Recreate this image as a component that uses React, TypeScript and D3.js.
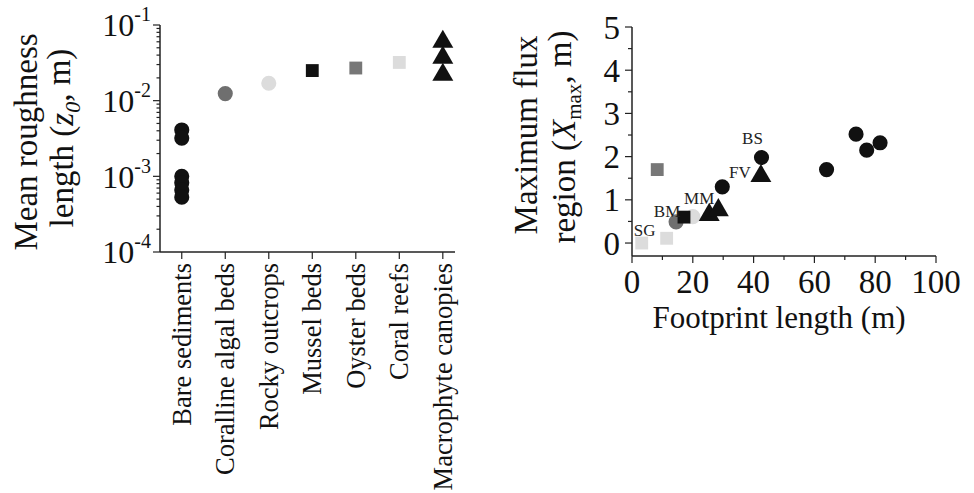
import React from 'react';
import * as d3 from 'd3';

// left panel: mean roughness length per habitat
const habitats = ['Bare sediments', 'Coralline algal beds', 'Rocky outcrops', 'Mussel beds', 'Oyster beds', 'Coral reefs', 'Macrophyte canopies'];
const roughnessByHabitat = [
  [0.0041, 0.0032, 0.001, 0.00082, 0.00066, 0.00053],
  [0.0124],
  [0.017],
  [0.025],
  [0.027],
  [0.032],
  [0.06, 0.037, 0.022],
];

// right panel: footprint length vs maximum flux region
const footprintLength = [3.2, 11.4, 8.3, 14.5, 20, 17.1, 29.7, 42.6, 64, 73.7, 77.2, 81.6, 25.4, 28.4, 42.4];
const maxFluxRegion = [0, 0.11, 1.7, 0.49, 0.61, 0.6, 1.3, 1.98, 1.7, 2.52, 2.15, 2.32, 0.65, 0.76, 1.55];
const footprintHabitat = [5, 5, 4, 1, 2, 3, 0, 0, 0, 0, 0, 0, 6, 6, 6];
const siteLabels = ['SG', '', '', 'BM', '', '', '', 'BS', '', '', '', '', 'MM', '', 'FV'];

const xTicksRight = [0, 20, 40, 60, 80, 100];
const yTicksRight = [0, 1, 2, 3, 4, 5];

// marker style per habitat
const markerStyle = [
  { shape: d3.symbolCircle, fill: '#111' },
  { shape: d3.symbolCircle, fill: '#6f6f6f' },
  { shape: d3.symbolCircle, fill: '#dcdcdc' },
  { shape: d3.symbolSquare, fill: '#111' },
  { shape: d3.symbolSquare, fill: '#777' },
  { shape: d3.symbolSquare, fill: '#dcdcdc' },
  { shape: d3.symbolTriangle, fill: '#111' },
];
const symbolSize = (s: any) => (s === d3.symbolCircle ? 180 : s === d3.symbolSquare ? 165 : 190);

// label offsets (px) next to their points
const labelOffset: Record<string, [number, number]> = {
  SG: [3, -13], BM: [-9, -11], MM: [-10, -17], BS: [-9, -19], FV: [-21, -4],
};

const FONT = "'Liberation Serif', Tinos, 'Times New Roman', 'DejaVu Serif', serif";
const AX = '#222';

const App = () => {
  const width = 974, height = 493;

  // left scales
  const xL = d3.scaleLinear().domain([-0.5, 6.28]).range([160, 455]);
  const yL = d3.scaleLog().domain([1e-4, 1e-1]).range([252, 25]);
  const logTicks = yL.ticks();

  // right scales
  const xR = d3.scaleLinear().domain([0, 100]).range([632, 936]);
  const yR = d3.scaleLinear().domain([-0.3, 5]).range([256, 27]);

  const sym = (shape: any) => d3.symbol().type(shape).size(symbolSize(shape))() as string;

  const order = d3.range(footprintLength.length).sort((a, b) => {
    const rank = (h: number) => (markerStyle[h].shape === d3.symbolCircle ? 0 : markerStyle[h].shape === d3.symbolSquare ? 1 : 2);
    return rank(footprintHabitat[a]) - rank(footprintHabitat[b]);
  });

  return (
    <svg width={width} height={height} style={{ position: 'absolute', left: 0, top: 0, background: '#fff', fontFamily: FONT }}>
      {/* ---------- left panel ---------- */}
      <line x1={xL.range()[0]} x2={xL.range()[0]} y1={yL.range()[0]} y2={yL.range()[1]} stroke={AX} strokeWidth={1.5} />
      <line x1={xL.range()[0]} x2={xL.range()[1]} y1={yL.range()[0]} y2={yL.range()[0]} stroke={AX} strokeWidth={1.5} />
      {logTicks.map((t, i) => {
        const major = Math.abs(Math.log10(t) - Math.round(Math.log10(t))) < 1e-9;
        return <line key={i} x1={160 - (major ? 7 : 3.5)} x2={160} y1={yL(t)} y2={yL(t)} stroke={AX} strokeWidth={1.2} />;
      })}
      {[-4, -3, -2, -1].map(p => (
        <text key={p} x={151} y={yL(Math.pow(10, p))} dy="0.35em" textAnchor="end" fontSize={32} fill="#111">
          10<tspan fontSize={20} dy="-0.75em">{p}</tspan>
        </text>
      ))}
      {habitats.map((h, i) => (
        <g key={h}>
          <line x1={xL(i)} x2={xL(i)} y1={252} y2={259} stroke={AX} strokeWidth={1.2} />
          <text transform={`translate(${xL(i)},263) rotate(-90)`} textAnchor="end" dy="0.33em" fontSize={26.5} fill="#111">{h}</text>
        </g>
      ))}
      <text transform="translate(37,142) rotate(-90)" textAnchor="middle" fontSize={33} fill="#111">Mean roughness</text>
      <text transform="translate(73,138) rotate(-90)" textAnchor="middle" fontSize={33} fill="#111">
        length (<tspan fontStyle="italic">z</tspan><tspan fontStyle="italic" fontSize={22} dy="0.3em">0</tspan><tspan dy="-0.3em">, m)</tspan>
      </text>
      {roughnessByHabitat.map((vals, i) =>
        vals.map((v, j) => (
          <path key={`${i}-${j}`} d={sym(markerStyle[i].shape)} transform={`translate(${xL(i)},${yL(v)})`} fill={markerStyle[i].fill} />
        ))
      )}

      {/* ---------- right panel ---------- */}
      <line x1={632} x2={632} y1={yR.range()[0]} y2={yR.range()[1]} stroke={AX} strokeWidth={1.5} />
      <line x1={xR.range()[0]} x2={xR.range()[1]} y1={256} y2={256} stroke={AX} strokeWidth={1.5} />
      {d3.range(0, 5.01, 0.5).map(t => (
        <line key={t} x1={632 - (t % 1 === 0 ? 7 : 4)} x2={632} y1={yR(t)} y2={yR(t)} stroke={AX} strokeWidth={1.2} />
      ))}
      {d3.range(0, 100.1, 10).map(t => (
        <line key={t} x1={xR(t)} x2={xR(t)} y1={256} y2={256 + (t % 20 === 0 ? 7 : 4)} stroke={AX} strokeWidth={1.2} />
      ))}
      {yTicksRight.map(t => (
        <text key={t} x={620} y={yR(t)} dy="0.35em" textAnchor="end" fontSize={33} fill="#111">{t}</text>
      ))}
      {xTicksRight.map(t => (
        <text key={t} x={xR(t)} y={293} textAnchor="middle" fontSize={33} fill="#111">{t}</text>
      ))}
      <text x={779} y={328} textAnchor="middle" fontSize={31} fill="#111">Footprint length (m)</text>
      <text transform="translate(537,135) rotate(-90)" textAnchor="middle" fontSize={33} fill="#111">Maximum flux</text>
      <text transform="translate(575,137) rotate(-90)" textAnchor="middle" fontSize={33} fill="#111">
        region (<tspan fontStyle="italic">X</tspan><tspan fontSize={21} dy="0.3em">max</tspan><tspan dy="-0.3em">, m)</tspan>
      </text>
      {order.map(i => {
        const st = markerStyle[footprintHabitat[i]];
        return <path key={i} d={sym(st.shape)} transform={`translate(${xR(footprintLength[i])},${yR(maxFluxRegion[i])})`} fill={st.fill} />;
      })}
      {siteLabels.map((l, i) => l && (
        <text key={l} x={xR(footprintLength[i]) + labelOffset[l][0]} y={yR(maxFluxRegion[i]) + labelOffset[l][1]}
          dy="0.35em" textAnchor="middle" fontSize={17} fill="#222">{l}</text>
      ))}
    </svg>
  );
};

export default App;
